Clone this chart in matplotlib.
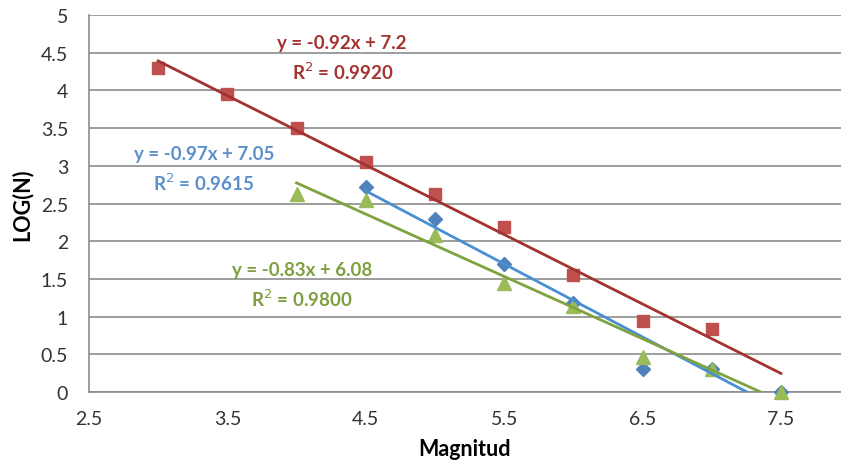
import numpy as np
import matplotlib
matplotlib.use('Agg')
import matplotlib.pyplot as plt

plt.rcParams['font.family'] = ['Lato', 'DejaVu Sans']

# datos
mag_red = [3.0, 3.5, 4.0, 4.5, 5.0, 5.5, 6.0, 6.5, 7.0]
log_red = [4.30, 3.95, 3.50, 3.05, 2.62, 2.19, 1.55, 0.94, 0.84]

mag_blue = [4.5, 5.0, 5.5, 6.0, 6.5, 7.0, 7.5]
log_blue = [2.72, 2.30, 1.70, 1.18, 0.30, 0.30, 0.00]

mag_green = [4.0, 4.5, 5.0, 5.5, 6.0, 6.5, 7.0, 7.5]
log_green = [2.62, 2.55, 2.08, 1.45, 1.14, 0.47, 0.30, 0.00]

# ecuaciones de las lineas de tendencia (como aparecen en el grafico)
txt_red = ['y = -0.92x + 7.2', 'R$^2$ = 0.9920']
txt_blue = ['y = -0.97x + 7.05', 'R$^2$ = 0.9615']
txt_green = ['y = -0.83x + 6.08', 'R$^2$ = 0.9800']

# (x, y, textos, marcador, tamaño, color, color linea, color texto, pos texto, fin linea)
series = [
    (mag_red, log_red, txt_red, 's', 9, '#C0504D', '#A33330', '#A33330', (4.33, 4.64), 7.5),
    (mag_blue, log_blue, txt_blue, 'D', 7.5, '#4F81BD', '#4A8FD2', '#5B8FCB', (3.33, 3.16), 7.5),
    (mag_green, log_green, txt_green, '^', 10, '#9BBB59', '#7FA33E', '#7E9E3F', (4.04, 1.63), 7.5),
]

fig = plt.figure(figsize=(8.41, 4.64), dpi=100)
ax = fig.add_axes([0.1058, 0.153, 0.8942, 0.8125])

for x, y, txt, mk, ms, col, lcol, tcol, pos, xend in series:
    ax.plot(x, y, linestyle='none', marker=mk, markersize=ms, color=col,
            clip_on=False, zorder=3)
    m, b = np.polyfit(x, y, 1)
    xx = np.array([x[0], xend])
    ax.plot(xx, m * xx + b, color=lcol, linewidth=2, zorder=4)
    ax.text(pos[0], pos[1], txt[0], color=tcol, fontsize=13.5, fontweight='bold',
            ha='center', va='center')
    ax.text(pos[0], pos[1] - 0.38, txt[1], color=tcol, fontsize=13.5, fontweight='bold',
            ha='center', va='center')

ax.set_xlim(2.5, 7.934)
ax.set_ylim(0, 5)
ax.set_xticks([2.5, 3.5, 4.5, 5.5, 6.5, 7.5])
ax.set_xticklabels(['2.5', '3.5', '4.5', '5.5', '6.5', '7.5'])
ax.set_yticks(np.arange(0, 5.01, 0.5))
ax.set_yticklabels(['0', '0.5', '1', '1.5', '2', '2.5', '3', '3.5', '4', '4.5', '5'])
ax.tick_params(length=0, labelsize=14, colors='#333333')
ax.tick_params(axis='y', pad=15)
ax.tick_params(axis='x', pad=13)

ax.grid(axis='y', color='#8C8C8C', linewidth=1.2)
ax.set_axisbelow(True)
for s in ['top', 'right']:
    ax.spines[s].set_visible(False)
for s in ['left', 'bottom']:
    ax.spines[s].set_color('#8C8C8C')
    ax.spines[s].set_linewidth(1.2)

ax.set_xlabel('Magnitud', fontsize=15.5, fontweight='bold', labelpad=8)
ax.set_ylabel('LOG(N)', fontsize=15.5, fontweight='bold', labelpad=6)

fig.savefig('out.png', dpi=100)
